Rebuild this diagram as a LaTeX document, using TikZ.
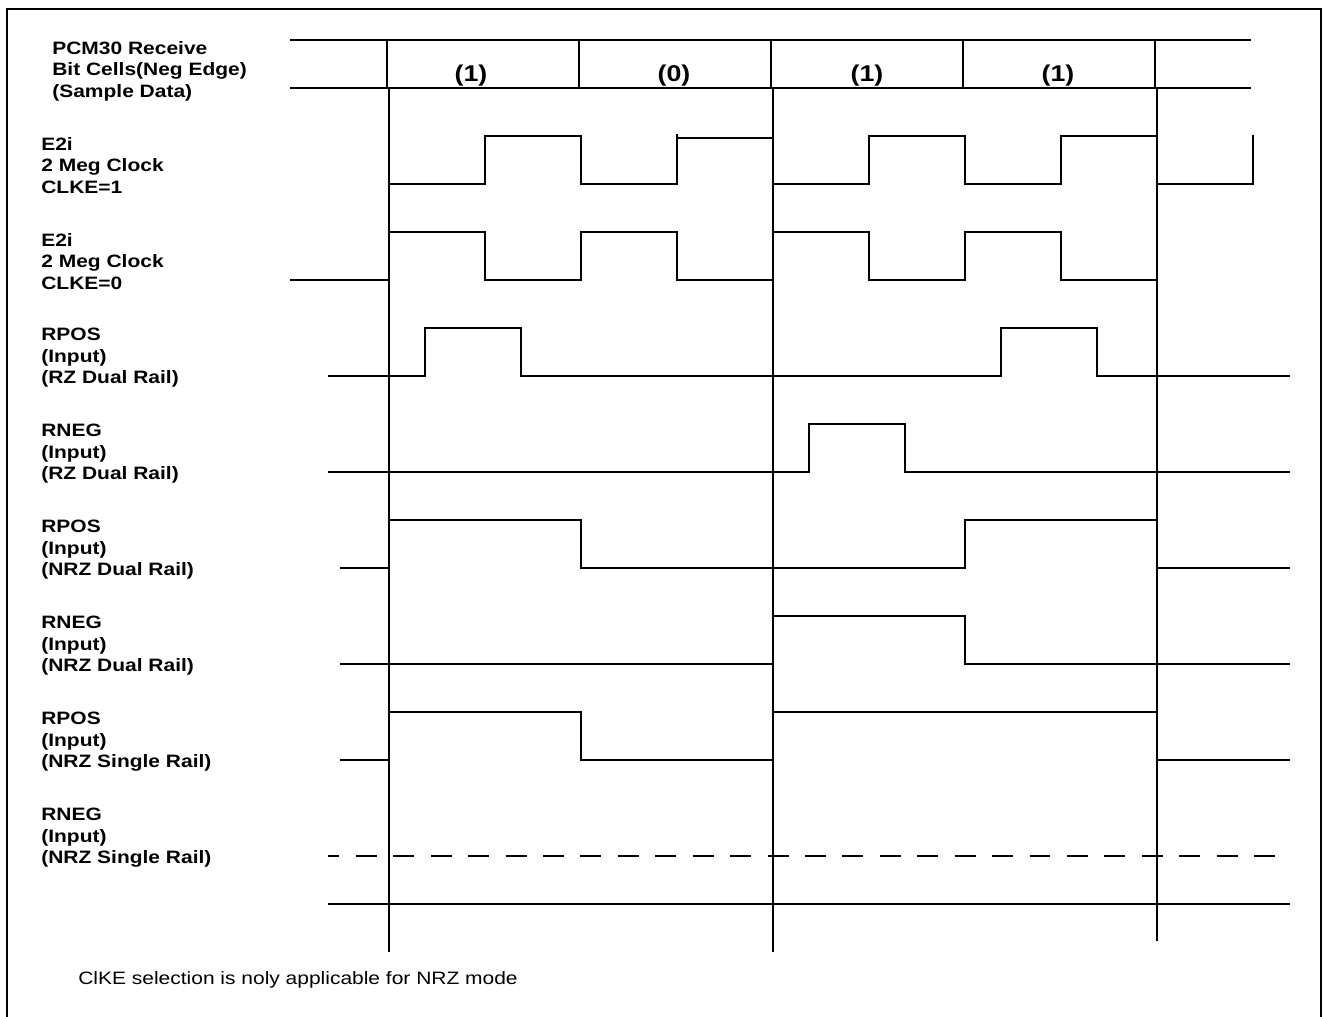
\documentclass[tikz,border=0pt]{standalone}
\usepackage{fontspec}
\setmainfont{Liberation Sans}[FakeStretch=1.17]
\usepackage{tikz}

\begin{document}
\begin{tikzpicture}[x=.02cm,y=-.02cm,font=\fontsize{10.2}{12.2}\selectfont,
  lbl/.style={font=\bfseries\fontsize{10.2}{12.2}\selectfont,align=left,anchor=north west,inner sep=0pt},
  bit/.style={font=\bfseries\fontsize{13}{15}\selectfont,anchor=base,inner sep=0pt},
  note/.style={anchor=north west,inner sep=0pt},
  wave/.style={line width=.8pt},
  grid/.style={line width=.65pt},
  frm/.style={line width=1pt}]
\useasboundingbox (0,0) rectangle (1323,1017);
\draw[frm] (7,1017) -- (7,9) -- (1321,9) -- (1321,1017);
% bit cells
\draw[wave] (290,40) -- (1251,40);
\draw[wave] (290,88) -- (1251,88);
\foreach \x in {387,579,771,963,1155} \draw[grid] (\x,40) -- (\x,88);
\node[bit] (cell1) at (471,82) {(1)};
\node[bit] (cell2) at (674,82) {(0)};
\node[bit] (cell3) at (867,82) {(1)};
\node[bit] (cell4) at (1058,82) {(1)};
\draw[grid] (389,88) -- (389,952);
\draw[grid] (773,88) -- (773,952);
\draw[grid] (1157,88) -- (1157,941);
% signal names
\node[lbl] (hdr) at (52,41) {PCM30 Receive\\Bit Cells(Neg Edge)\\(Sample Data)};
\node[lbl] (clkone) at (41,137) {E2i\\2 Meg Clock\\CLKE=1};
\node[lbl] (clkzero) at (41,233) {E2i\\2 Meg Clock\\CLKE=0};
\node[lbl] (rposrz) at (41,328) {RPOS\\(Input)\\(RZ Dual Rail)};
\node[lbl] (rnegrz) at (41,424) {RNEG\\(Input)\\(RZ Dual Rail)};
\node[lbl] (rposnrz) at (41,520) {RPOS\\(Input)\\(NRZ Dual Rail)};
\node[lbl] (rnegnrz) at (41,616) {RNEG\\(Input)\\(NRZ Dual Rail)};
\node[lbl] (rposone) at (41,712) {RPOS\\(Input)\\(NRZ Single Rail)};
\node[lbl] (rnegone) at (41,808) {RNEG\\(Input)\\(NRZ Single Rail)};
% waveforms
\draw[wave] (389,184) -| (485,136) -| (581,184) -| (677,134);
\draw[wave] (677,138) -- (773,138);
\draw[wave] (773,184) -| (869,136) -| (965,184) -| (1061,136) -- (1157,136);
\draw[wave] (1157,184) -| (1253,135);
\draw[wave] (290,280) -| (389,232) -| (485,280) -| (581,232) -| (677,280) -| (773,232)
  -| (869,280) -| (965,232) -| (1061,280) -- (1157,280);
\draw[wave] (328,376) -| (425,328) -| (521,376) -| (1001,328) -| (1097,376) -- (1290,376);
\draw[wave] (328,472) -| (809,424) -| (905,472) -- (1290,472);
\draw[wave] (340,568) -| (389,520) -| (581,568) -| (965,520) -| (1157,568) -- (1290,568);
\draw[wave] (340,664) -| (773,616) -| (965,664) -- (1290,664);
\draw[wave] (340,760) -| (389,712) -| (581,760) -| (773,712) -| (1157,760) -- (1290,760);
\draw[wave,dash pattern=on 11.9pt off 9.4pt,dash phase=5.4pt] (328,856) -- (1290,856);
\draw[wave] (328,904) -- (1290,904);
\node[note] (foot) at (78,971) {ClKE selection is noly applicable for NRZ mode};
\end{tikzpicture}
\end{document}
